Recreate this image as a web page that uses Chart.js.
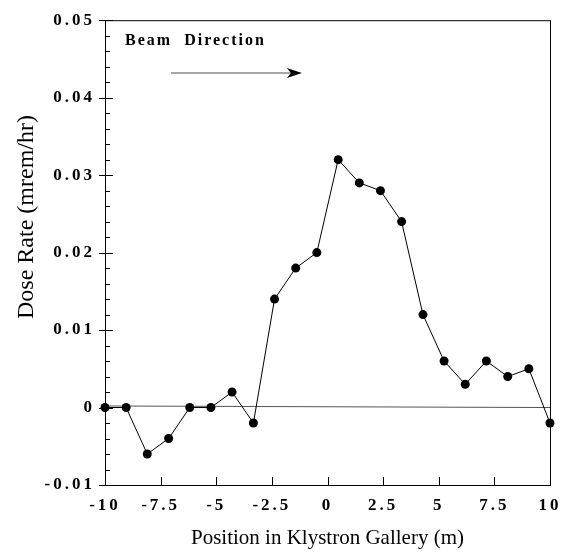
<!DOCTYPE html>
<html>
<head>
<meta charset="utf-8">
<script src="https://cdn.jsdelivr.net/npm/chart.js@4"></script>
<style>
  html, body { margin: 0; padding: 0; background: #fff; }
</style>
</head>
<body>
<canvas id="grafico" width="571" height="554"></canvas>
<script>
// Datos
const posiciones = [-10, -9.05, -8.1, -7.14, -6.19, -5.24, -4.29, -3.33, -2.38, -1.43, -0.48,
                    0.48, 1.43, 2.38, 3.33, 4.29, 5.24, 6.19, 7.14, 8.1, 9.05, 10];
const dosis = [0, 0, -0.006, -0.004, 0, 0, 0.002, -0.002, 0.014, 0.018, 0.02,
               0.032, 0.029, 0.028, 0.024, 0.012, 0.006, 0.003, 0.006, 0.004, 0.005, -0.002];
// Línea de referencia casi horizontal
const lineaCeroX = [-10, 10];
const lineaCeroY = [0.0002, 0];
const xTicks = [-10, -7.5, -5, -2.5, 0, 2.5, 5, 7.5, 10];
const yMayores = [-0.01, 0, 0.01, 0.02, 0.03, 0.04, 0.05];
const yEtiquetas = ['-0.01', '0', '0.01', '0.02', '0.03', '0.04', '0.05'];
const yMenores = [-0.008, -0.006, -0.004, -0.002,
                  0.002, 0.004, 0.006, 0.008,
                  0.012, 0.014, 0.016, 0.018,
                  0.022, 0.024, 0.026, 0.028,
                  0.032, 0.034, 0.036, 0.038,
                  0.042, 0.044, 0.046, 0.048];

const SERIF = '"Liberation Serif", "DejaVu Serif", serif';

// Marco, marcas de ejes, flecha y títulos
const marcoPlugin = {
  id: 'marco',
  beforeDraw(chart) {
    chart.ctx.letterSpacing = '3px';
  },
  beforeDatasetsDraw(chart) {
    const { ctx, chartArea: a, scales: { x, y } } = chart;
    ctx.letterSpacing = '0px';
    ctx.save();
    ctx.strokeStyle = '#000';
    ctx.lineWidth = 1;
    ctx.strokeRect(a.left + 0.5, a.top + 0.5, a.right - a.left, a.bottom - a.top);
    ctx.beginPath();
    yMayores.forEach(v => {
      const py = Math.round(y.getPixelForValue(v)) + 0.5;
      ctx.moveTo(a.left - 6, py);
      ctx.lineTo(a.left + 8, py);
    });
    yMenores.forEach(v => {
      const py = Math.round(y.getPixelForValue(v)) + 0.5;
      ctx.moveTo(a.left, py);
      ctx.lineTo(a.left + 5, py);
    });
    xTicks.forEach(v => {
      const px = Math.round(x.getPixelForValue(v)) + 0.5;
      ctx.moveTo(px, a.bottom);
      ctx.lineTo(px, a.bottom - 8);
    });
    ctx.stroke();
    ctx.restore();
  },
  afterDraw(chart) {
    const { ctx, chartArea: a, scales: { x, y } } = chart;
    ctx.save();
    // Texto "Beam Direction"
    ctx.letterSpacing = '2px';
    ctx.fillStyle = '#000';
    ctx.font = 'bold 16px ' + SERIF;
    ctx.textAlign = 'left';
    ctx.textBaseline = 'alphabetic';
    ctx.fillText('Beam  Direction', x.getPixelForValue(-9.1), y.getPixelForValue(0.0468));
    // Flecha
    const x1 = x.getPixelForValue(-7.03);
    const x2 = x.getPixelForValue(-1.15);
    const yy = Math.round(y.getPixelForValue(0.0432));
    ctx.strokeStyle = '#a6a6a6';
    ctx.lineWidth = 2;
    ctx.beginPath();
    ctx.moveTo(x1, yy);
    ctx.lineTo(x2 - 10, yy);
    ctx.stroke();
    ctx.fillStyle = '#000';
    ctx.beginPath();
    ctx.moveTo(x2, yy);
    ctx.lineTo(x2 - 15, yy - 5);
    ctx.lineTo(x2 - 11, yy);
    ctx.lineTo(x2 - 15, yy + 5);
    ctx.closePath();
    ctx.fill();
    // Títulos de ejes
    ctx.letterSpacing = '0px';
    ctx.font = '21px ' + SERIF;
    ctx.textAlign = 'center';
    ctx.fillText('Position in Klystron Gallery (m)', (a.left + a.right) / 2, a.bottom + 59);
    ctx.font = '24px ' + SERIF;
    ctx.translate(a.left - 72, 217);
    ctx.rotate(-Math.PI / 2);
    ctx.fillText('Dose Rate (mrem/hr)', 0, 0);
    ctx.restore();
  }
};

const ctx = document.getElementById('grafico').getContext('2d');
new Chart(ctx, {
  type: 'scatter',
  data: {
    datasets: [
      {
        label: 'Dose Rate',
        data: posiciones.map((p, i) => ({ x: p, y: dosis[i] })),
        showLine: true,
        borderColor: '#000',
        borderWidth: 1,
        pointRadius: 4.5,
        pointBackgroundColor: '#000',
        pointBorderColor: '#000',
        pointBorderWidth: 0,
        clip: false
      },
      {
        label: 'Cero',
        data: lineaCeroX.map((p, i) => ({ x: p, y: lineaCeroY[i] })),
        showLine: true,
        borderColor: '#555',
        borderWidth: 1,
        pointRadius: 0
      }
    ]
  },
  options: {
    responsive: false,
    animation: false,
    layout: { padding: { top: 12, right: 21, left: 0, bottom: 0 } },
    plugins: {
      legend: { display: false },
      tooltip: { enabled: false }
    },
    scales: {
      x: {
        type: 'linear',
        min: -10,
        max: 10,
        afterFit: s => { s.height = 69; },
        afterBuildTicks: s => { s.ticks = xTicks.map(v => ({ value: v })); },
        grid: { display: false, drawTicks: false },
        border: { display: false },
        ticks: {
          autoSkip: false,
          maxRotation: 0,
          padding: 10,
          color: '#000',
          font: { family: SERIF, size: 17, weight: 'bold' },
          callback: v => String(v)
        }
      },
      y: {
        type: 'linear',
        min: -0.01,
        max: 0.05,
        afterFit: s => { s.width = 105; },
        afterBuildTicks: s => { s.ticks = yMayores.map(v => ({ value: v })); },
        grid: { display: false, drawTicks: false },
        border: { display: false },
        ticks: {
          autoSkip: false,
          padding: 10,
          color: '#000',
          font: { family: SERIF, size: 17, weight: 'bold' },
          callback: (v, i) => yEtiquetas[i]
        }
      }
    }
  },
  plugins: [marcoPlugin]
});
</script>
</body>
</html>
